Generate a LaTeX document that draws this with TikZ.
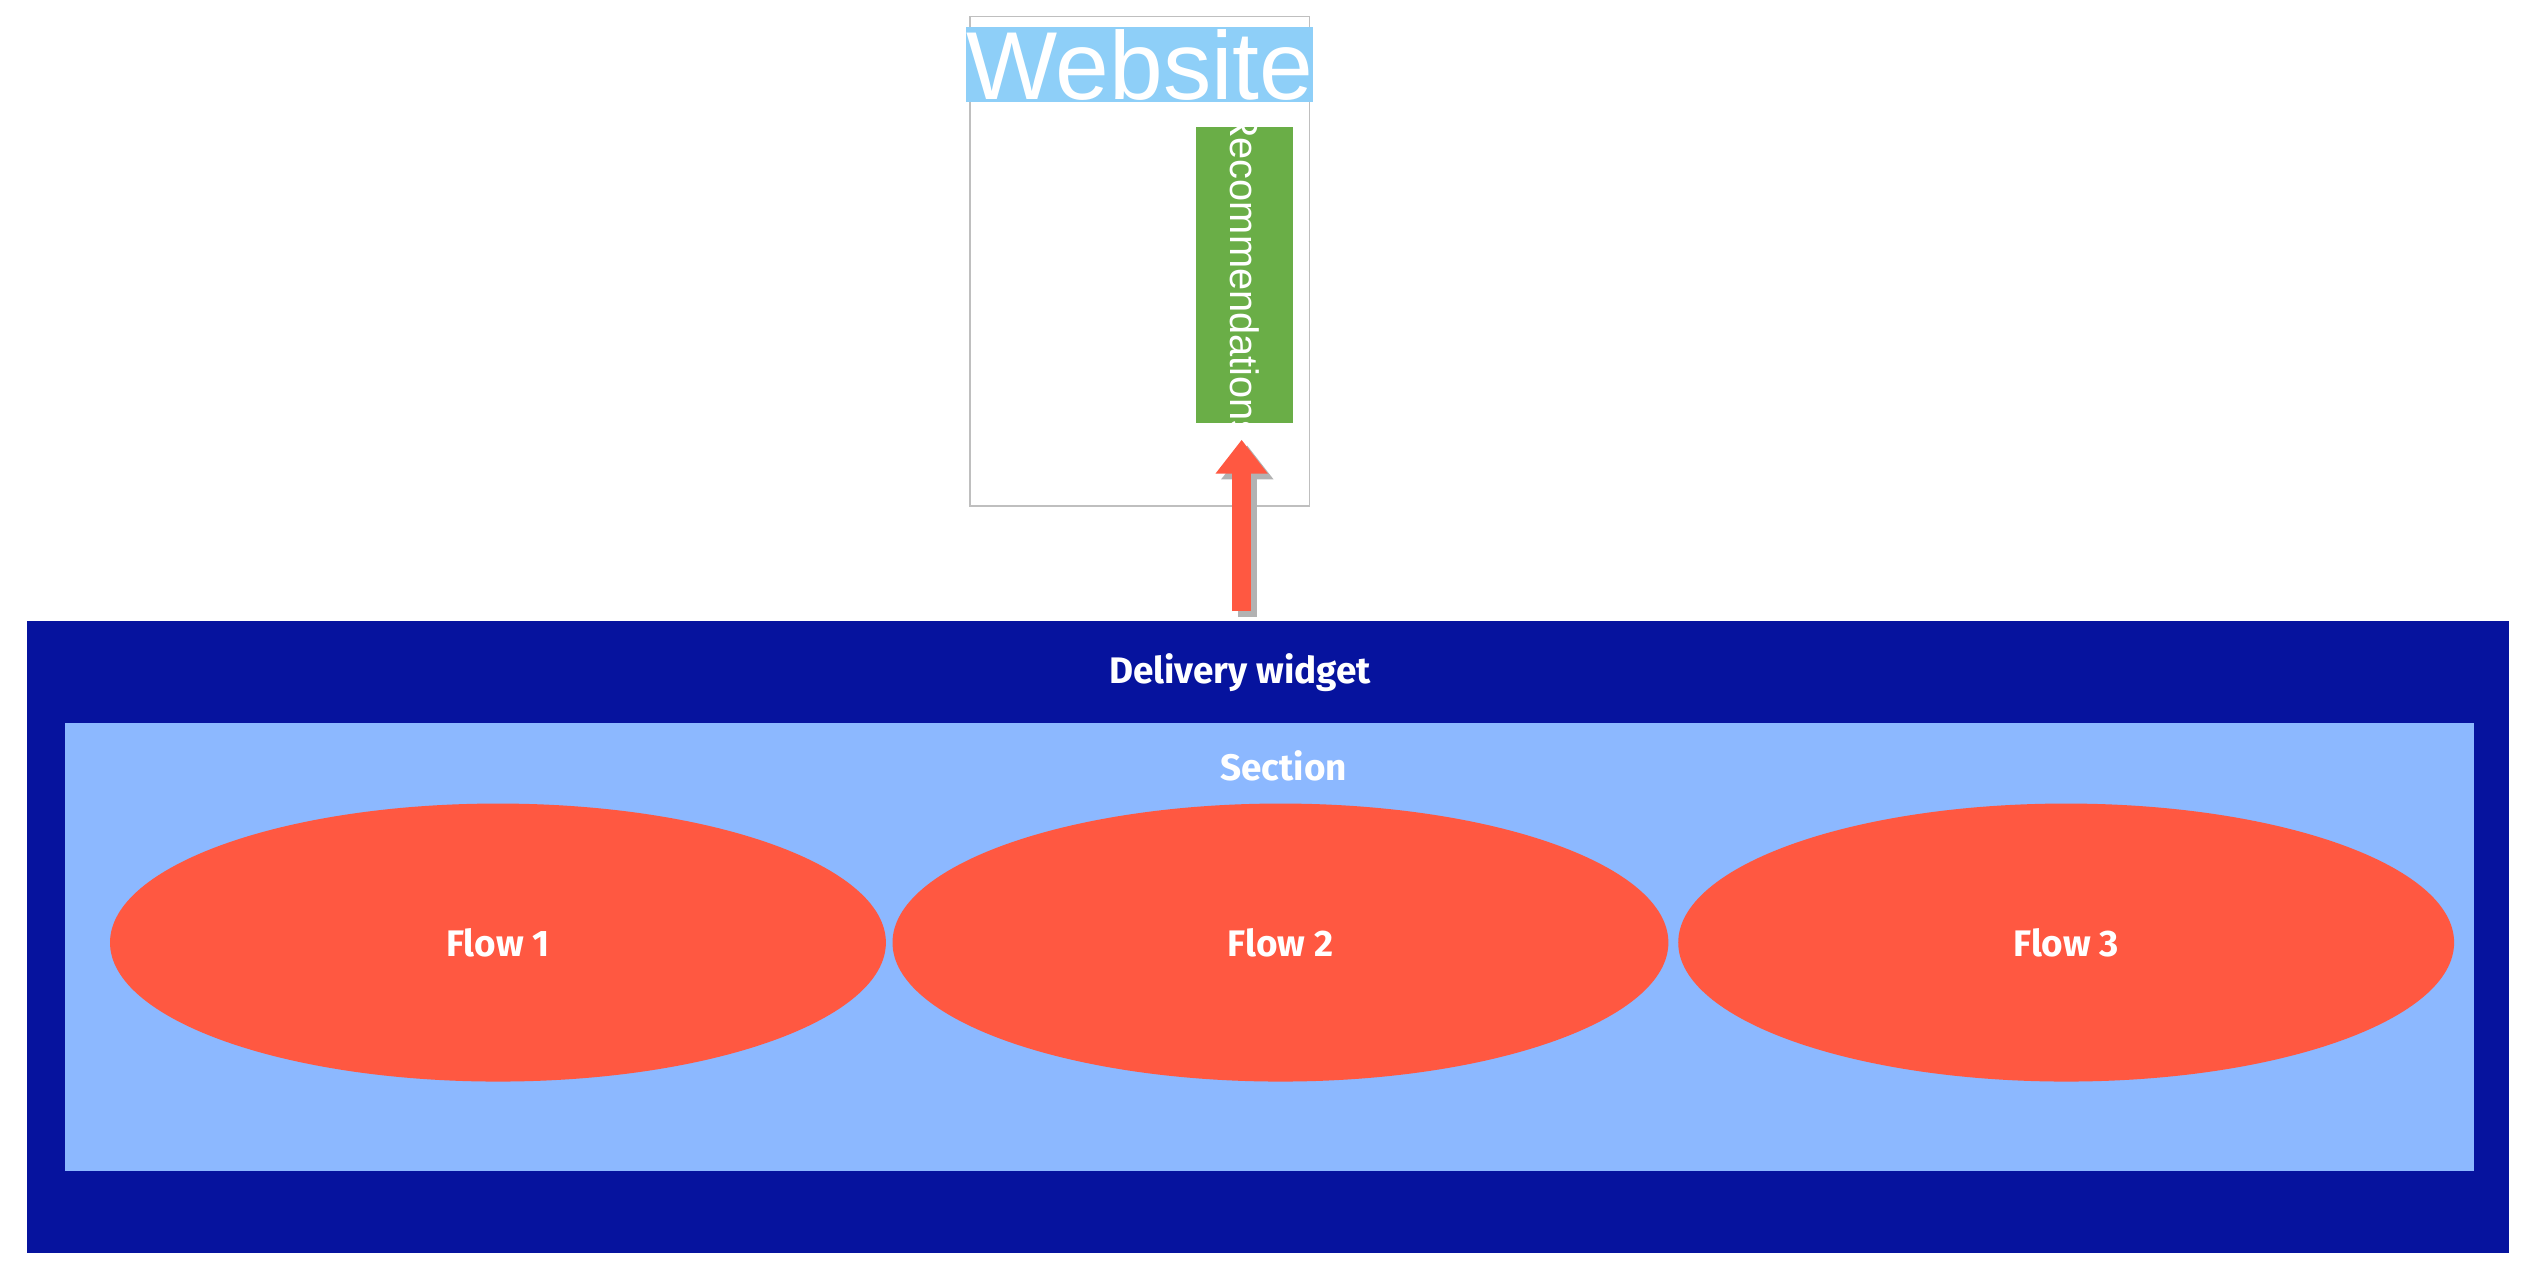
\documentclass[tikz,border=0pt]{standalone}
\usepackage{fontspec}
\setmainfont{Liberation Sans}
\newfontfamily\flowfont{Fira Sans}
\usetikzlibrary{shapes.geometric,arrows.meta,positioning}
\definecolor{widgetblue}{HTML}{06139E}
\definecolor{sectionblue}{HTML}{8CB8FF}
\definecolor{flowred}{HTML}{FF5841}
\definecolor{recgreen}{HTML}{6AAE47}
\definecolor{titleblue}{HTML}{8ECFF8}
\tikzset{
	flow/.style={ellipse, fill=flowred, minimum width=9.6cm, minimum height=3.44cm,
		text=white, font=\flowfont\bfseries\fontsize{13}{15}\selectfont},
	boxlabel/.style={text=white, font=\flowfont\bfseries\fontsize{13}{15}\selectfont},
	pusharrow/.style={line width=0.24cm, -{Triangle[length=0.42cm, width=0.62cm]}}
}
\begin{document}
\begin{tikzpicture}[x=0.02cm, y=-0.02cm]
	\useasboundingbox (0,0) rectangle (1568,795);
	% Website
	\draw[draw=black!25] (600,10) rectangle (810,313);
	\node[fill=titleblue, text=white, inner sep=0pt, minimum width=3.72cm,
		minimum height=0.92cm, font=\fontsize{34}{36}\selectfont] (website) at (705,40) {Website};
	\node[fill=recgreen, minimum width=1.2cm, minimum height=3.66cm] (rec) at (770,170) {};
	\node[rotate=-90, text=white, font=\fontsize{14}{16}\selectfont] at (rec.center) {Recommendations};
	% Delivery widget
	\fill[widgetblue] (17,384) rectangle (1552,775);
	\node[boxlabel] (widget) at (767,416) {Delivery widget};
	\fill[sectionblue] (40,447) rectangle (1530,724);
	\node[boxlabel] (section) at (794,474) {Section};
	% Flows
	\node[flow] (flow1) at (308,583) {\raisebox{-1.2ex}{Flow 1}};
	\node[flow] (flow2) at (792,583) {Flow 2};
	\node[flow] (flow3) at (1278,583) {Flow 3};
	% Arrow
	\coordinate (start) at (768,378);
	\coordinate (tip) at (768,272);
	\draw[pusharrow, black!30, transform canvas={xshift=0.07cm, yshift=-0.07cm}] (start) -- (tip);
	\draw[pusharrow, flowred] (start) -- (tip);
\end{tikzpicture}
\end{document}
